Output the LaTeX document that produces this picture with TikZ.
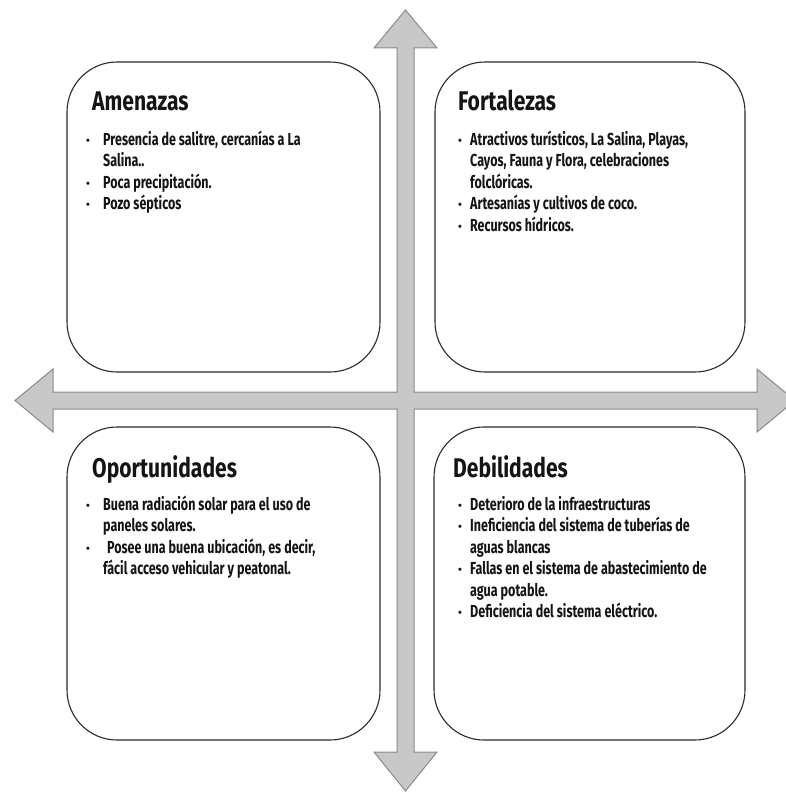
\documentclass[tikz,border=0pt]{standalone}
\usepackage{fontspec}
\setmainfont{Fira Sans}[FakeStretch=0.72]
\newfontfamily\titlefont{Fira Sans}[FakeStretch=0.78]
\newfontfamily\bulletfont{Fira Sans}
\usepackage{array}
\definecolor{arrowfill}{HTML}{C8C8C8}
\definecolor{arrowline}{HTML}{8A8A8A}
\definecolor{boxline}{HTML}{2A2A2A}
\definecolor{textcol}{HTML}{141414}
\tikzset{
  quadbox/.style={draw=boxline, line width=1.1pt, rounded corners=50pt, inner sep=0pt, fill=white},
  quadtitle/.style={anchor=base west, inner sep=0pt, text=textcol, font=\titlefont\fontsize{27}{30}\selectfont\bfseries},
  quadbody/.style={anchor=base west, inner sep=0pt, text=textcol, font=\fontsize{17.4}{21.5}\selectfont\bfseries},
  crossarrow/.style={fill=arrowfill, draw=arrowline, line width=1pt, line join=miter}
}
\newcommand{\bul}{{\bulletfont\fontsize{11}{11}\selectfont\raisebox{1pt}{•}}}
\begin{document}
\begin{tikzpicture}[x=1pt,y=-1pt]
\useasboundingbox (0,0) rectangle (786,792);
\clip (0,0) rectangle (786,792);
\fill[white] (0,0) rectangle (786,792);

% four-way arrow
\draw[crossarrow] (405.5,10) -- (437,48) -- (414,48) -- (414,392) -- (757,392) -- (757,369)
  -- (795,400.5) -- (757,432) -- (757,409) -- (414,409) -- (414,752) -- (437,752)
  -- (405.5,791) -- (374,752) -- (397,752) -- (397,409) -- (53,409) -- (53,432)
  -- (15,400.5) -- (53,369) -- (53,392) -- (397,392) -- (397,48) -- (374,48) -- cycle;

% boxes
\node[quadbox, minimum width=313pt, minimum height=310pt] (amenazas) at (223.5,217) {};
\node[quadbox, minimum width=310pt, minimum height=310pt] (fortalezas) at (590,217) {};
\node[quadbox, minimum width=313pt, minimum height=313pt] (oportunidades) at (223.5,583.5) {};
\node[quadbox, minimum width=311pt, minimum height=313pt] (debilidades) at (589.5,583.5) {};

% titles
\node[quadtitle] (tAmen) at (92,110) {Amenazas};
\node[quadtitle] (tFort) at (458,110) {Fortalezas};
\node[quadtitle] (tOpor) at (92,477) {Oportunidades};
\node[quadtitle] (tDeb) at (453,477) {Debilidades};

% bodies
\node[quadbody] (bAmen) at (86,145) {\begin{tabular}[t]{@{}p{17pt}@{}l@{}}
\bul & Presencia de salitre, cercanías a La\\
 & Salina..\\
\bul & Poca precipitación.\\
\bul & Pozo sépticos
\end{tabular}};

\node[quadbody] (bFort) at (458,145) {\begin{tabular}[t]{@{}p{12pt}@{}l@{}}
\bul & Atractivos turísticos, La Salina, Playas,\\
 & Cayos, Fauna y Flora, celebraciones\\
 & folclóricas.\\
\bul & Artesanías y cultivos de coco.\\
\bul & Recursos hídricos.
\end{tabular}};

\node[quadbody] (bOpor) at (86,510) {\begin{tabular}[t]{@{}p{17pt}@{}l@{}}
\bul & Buena radiación solar para el uso de\\
 & paneles solares.\\
\bul & \hspace{4pt}Posee una buena ubicación, es decir,\\
 & fácil acceso vehicular y peatonal.
\end{tabular}};

\node[quadbody] (bDeb) at (458,510) {\begin{tabular}[t]{@{}p{12pt}@{}l@{}}
\bul & Deterioro de la infraestructuras\\
\bul & Ineficiencia del sistema de tuberías de\\
 & aguas blancas\\
\bul & Fallas en el sistema de abastecimiento de\\
 & agua potable.\\
\bul & Deficiencia del sistema eléctrico.
\end{tabular}};
\end{tikzpicture}
\end{document}
